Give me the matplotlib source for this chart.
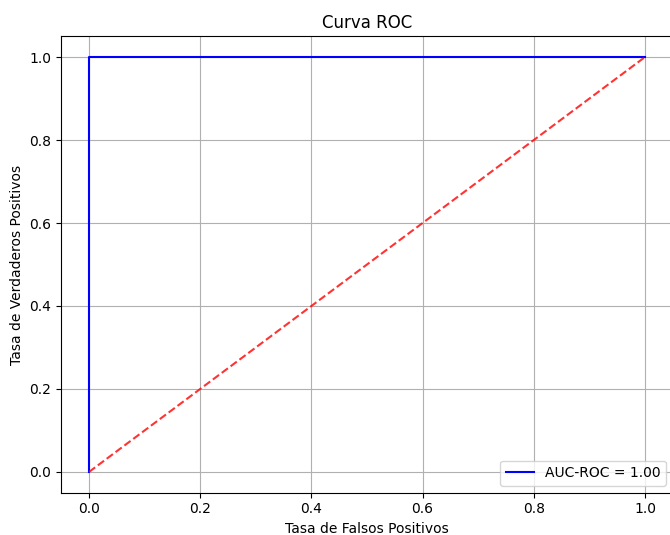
import matplotlib
matplotlib.use("Agg")
import matplotlib.pyplot as plt

fpr = [0.0, 0.0, 1.0]
tpr = [0.0, 1.0, 1.0]
diag_x = [0.0, 1.0]
diag_y = [0.0, 1.0]
auc_label = "AUC-ROC = 1.00"

W, H = 670, 535
fig = plt.figure(figsize=(W / 100, H / 100), dpi=100)
ax = fig.add_axes([61.2 / W, 1 - 492.7 / H, (672.8 - 61.2) / W, (492.7 - 36.3) / H])
ax.plot(fpr, tpr, color="blue", label=auc_label)
ax.plot(diag_x, diag_y, color="red", linestyle="--", alpha=0.8)
ax.set_xlim(-0.05, 1.05)
ax.set_ylim(-0.05, 1.05)
ax.set_xlabel("Tasa de Falsos Positivos")
ax.set_ylabel("Tasa de Verdaderos Positivos")
ax.set_title("Curva ROC")
ax.legend(loc="lower right")
ax.grid(True)
fig.savefig("out.png", dpi=100)
